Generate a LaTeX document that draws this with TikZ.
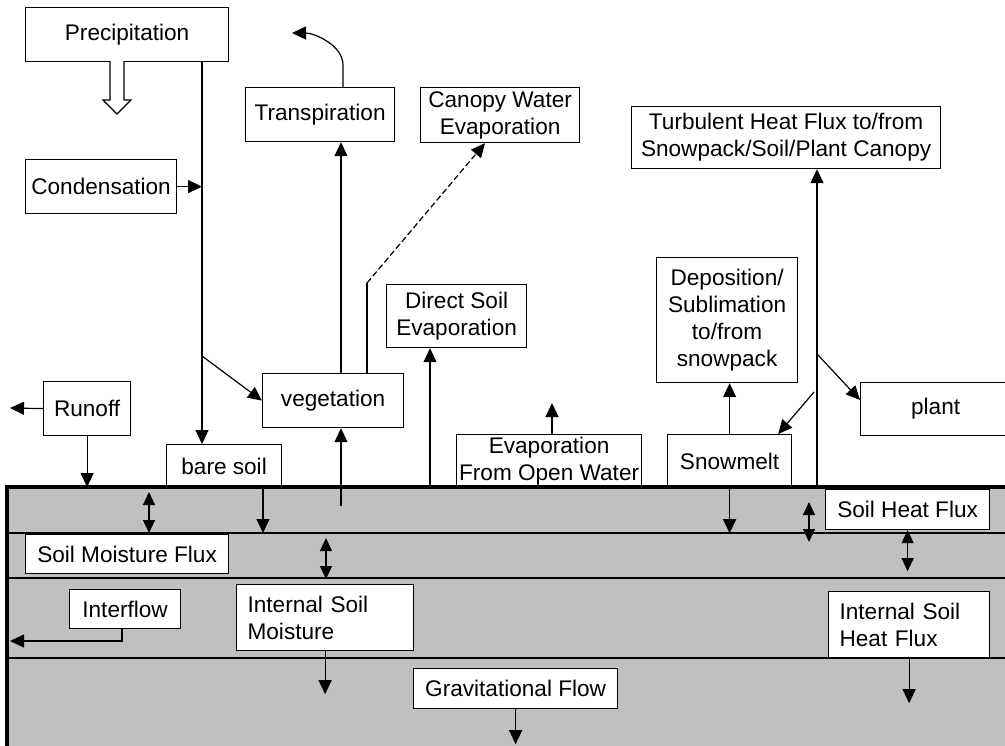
\documentclass[tikz,border=0pt]{standalone}
\usepackage{fontspec}
\setmainfont{Liberation Sans}
\usetikzlibrary{arrows.meta, positioning, calc}
\definecolor{soilgray}{RGB}{192,192,192}
\tikzset{
  box/.style={draw, fill=white, line width=0.6pt, inner sep=0pt, anchor=north west,
    align=center, font=\fontsize{11.3}{13.5}\selectfont},
  lbox/.style={box, align=left, inner xsep=5.5pt},
  boxsize/.style 2 args={minimum width=#1*0.5pt, minimum height=#2*0.5pt},
  arr/.style={line width=0.6pt, -{Triangle[length=7pt,width=6.5pt]}},
  dbl/.style={line width=0.6pt, {Triangle[length=6.5pt,width=6pt]}-{Triangle[length=6.5pt,width=6pt]}}
}

\begin{document}
\begin{tikzpicture}[x=0.5pt, y=-0.5pt]
  \useasboundingbox (0,0) rectangle (1005,745);
  % soil layers
  \fill[soilgray] (7,487) rectangle (1012,750);
  \foreach \y in {533,578,658} \draw[line width=0.6pt] (7,\y) -- (1012,\y);

  \node[box, boxsize={203}{54}] (prec) at (25,7) {Precipitation};
  \node[box, boxsize={151}{54}] (cond) at (25,159) {Condensation};
  \node[box, boxsize={149}{54}] (transp) at (245,87) {Transpiration};
  \node[box, boxsize={159}{55}] (canopy) at (420,87) {Canopy Water\\Evaporation};
  \node[box, boxsize={309}{62}] (turb) at (631,106) {Turbulent Heat Flux to/from\\Snowpack/Soil/Plant Canopy};
  \node[box, boxsize={141}{125}] (depo) at (656,257) {Deposition/\\Sublimation\\to/from\\snowpack};
  \node[box, boxsize={140}{63}] (dsoil) at (386,284) {Direct Soil\\Evaporation};
  \node[box, boxsize={87}{54}] (runoff) at (43,381) {Runoff};
  \node[box, boxsize={141}{54}] (veg) at (262,373) {vegetation};
  \node[box, boxsize={150}{53}] (plant) at (860,382) {plant};
  \node[box, boxsize={115}{44}] (bare) at (166,444) {bare soil};
  \node[box, boxsize={185}{54}] (evow) at (456,434) {Evaporation\\From Open Water};
  \node[box, boxsize={124}{54}] (snow) at (667,434) {Snowmelt};
  \node[box, boxsize={203}{39}] (smf) at (25,534) {Soil Moisture Flux};
  \node[box, boxsize={164}{40}] (shf) at (825,489) {Soil Heat Flux};
  \node[box, boxsize={111}{39}] (inter) at (69,589) {Interflow};
  \node[lbox, boxsize={177}{66}, text width=77.5pt] (ism) at (236,584) {Internal Soil\\Moisture};
  \node[lbox, boxsize={161}{66}, text width=69.5pt] (ishf) at (828,591) {Internal Soil\\Heat Flux};
  \node[box, boxsize={204}{40}] (grav) at (413,668) {Gravitational Flow};

  \draw[line width=1.6pt] (7,750) -- (7,487) -- (1012,487);

  \coordinate (pl) at (202,0);
  \coordinate (pv) at (202,356);
  \coordinate (tl) at (341,0);
  \coordinate (tu) at (343,0);
  \coordinate (tend) at (292,33);
  \coordinate (dl) at (367,283);
  \coordinate (ce) at (485,0);
  \coordinate (vg) at (341,506);
  \coordinate (dg) at (430,487);
  \coordinate (ew) at (552,403);
  \coordinate (tg) at (817,487);
  \coordinate (ta) at (818,355);
  \coordinate (sa) at (814,392);
  \coordinate (ro) at (10,408);
  \coordinate (bs) at (263,533);
  \coordinate (il) at (122,641);
  \coordinate (ie) at (10,641);

  \draw[fill=white, line width=0.6pt] (110,61) -- (110,100) -- (103,100) -- (117,114)
    -- (131,100) -- (124,100) -- (124,61);
  \draw[arr] (prec.south -| pl) -- (bare.north -| pl);
  \draw[arr] (cond.east) -- (cond.east -| pl);
  \draw[arr] (pv) -- (veg.west);
  \draw[arr] (veg.north -| tl) -- (transp.south -| tl);
  \draw[arr] (vg) -- (veg.south -| vg);
  \draw[arr] (transp.north -| tu) -- ++(0,-22) .. controls +(0,-20) and +(22,0) .. (tend);
  \draw[line width=0.6pt] (veg.north -| dl) -- (dl);
  \draw[arr, dash pattern=on 3pt off 1.5pt] (dl) -- (canopy.south -| ce);
  \draw[arr] (dg) -- (dsoil.south -| dg);
  \draw[arr] (evow.north -| ew) -- (ew);
  \draw[arr] (snow.north) -- (depo.south -| snow.north);
  \draw[arr] (tg) -- (turb.south -| tg);
  \draw[arr] (ta) -- ($(plant.north west)+(0,18)$);
  \draw[arr] (sa) -- ($(snow.north east)+(-14,0)$);
  \draw[arr] (runoff.west) -- (ro);
  \draw[arr] (runoff.south) -- (runoff.south |- tg);

  \foreach \x/\ya/\yb in {149/492/533, 326/538/579, 809/502/542}
    \draw[dbl] (\x,\ya) -- (\x,\yb);
  \draw[dbl] (shf.south) -- ++(0,41);
  \draw[arr] (bare.south -| bs) -- (bs);
  \draw[arr] (snow.south) -- ++(0,44);
  \draw[arr] (inter.south -| il) -- (il) -- (ie);
  \draw[arr] (ism.south) -- ++(0,43);
  \draw[arr] (grav.south) -- ++(0,35);
  \draw[arr] (ishf.south) -- ++(0,45);
\end{tikzpicture}
\end{document}
